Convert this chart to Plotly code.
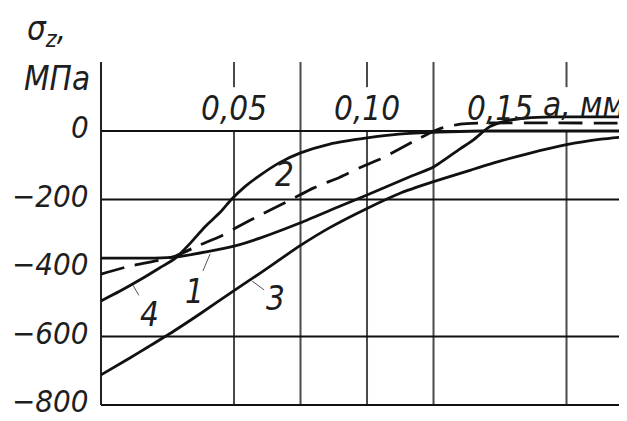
import plotly.graph_objects as go

# ---- data (depth a, mm ; stress sigma_z, MPa) ----
depth_1 = [0, 0.010, 0.020, 0.028, 0.040, 0.050, 0.060, 0.075, 0.090, 0.100,
           0.115, 0.125, 0.135, 0.140, 0.146, 0.152, 0.160, 0.170, 0.180, 0.198]
sigma_1 = [-371, -371, -371, -368, -352, -336, -312, -268, -219, -187,
           -137, -105, -52, -26, 12, 29, 38, 41, 41, 41]

depth_2 = [0, 0.011, 0.022, 0.028, 0.037, 0.045, 0.052, 0.060, 0.071, 0.080,
           0.090, 0.097, 0.105, 0.112, 0.120, 0.127, 0.135, 0.142, 0.198]
sigma_2 = [-418, -394, -377, -365, -333, -307, -277, -245, -202, -166,
           -134, -108, -82, -53, -20, 6, 20, 23, 23]

depth_3 = [0, 0.011, 0.018, 0.027, 0.037, 0.050, 0.060, 0.075, 0.086, 0.100,
           0.112, 0.125, 0.139, 0.150, 0.161, 0.175, 0.188, 0.198]
sigma_3 = [-712, -662, -629, -586, -535, -466, -414, -334, -282, -226,
           -183, -148, -114, -88, -65, -40, -24, -16]

depth_4 = [0, 0.007, 0.015, 0.022, 0.028, 0.0335, 0.039, 0.045, 0.049, 0.054,
           0.060, 0.067, 0.075, 0.086, 0.100, 0.112, 0.127, 0.143, 0.198]
sigma_4 = [-496, -468, -433, -400, -371, -328, -280, -236, -200, -163,
           -128, -93, -64, -38, -20, -9, -3, 0, 0]

curve_names = ["1", "2", "3", "4"]

x_tick_vals = [0.05, 0.10, 0.15]
x_tick_text = ["0,05", "0,10", "0,15"]
y_tick_vals = [0, -200, -400, -600, -800]
y_tick_text = ["0", "\u2212200", "\u2212400", "\u2212600", "\u2212800"]

x_grid_full = [0.075, 0.125]
x_grid_gap = [0.05, 0.10, 0.175]
y_grid = [0, -200, -600, -800]

X_MIN, X_MAX = -0.00113, 0.19774
Y_MIN, Y_MAX = -805.8, 201.5

FONT = "DejaVu Sans Condensed, Liberation Sans Narrow, DejaVu Sans, sans-serif"
TXT = "#1e1e1e"

fig = go.Figure()

series = [(depth_1, sigma_1, "solid"), (depth_2, sigma_2, "24px,11px"),
          (depth_3, sigma_3, "solid"), (depth_4, sigma_4, "solid")]
for (xs, ys, dash), name in zip(series, curve_names):
    fig.add_trace(go.Scatter(x=xs, y=ys, mode="lines", name=name,
                             line=dict(color="#111111", width=2.8, dash=dash,
                                       shape="spline", smoothing=0.6),
                             showlegend=False, hoverinfo="skip"))

shapes = []
for xv in x_grid_full:
    shapes.append(dict(type="line", xref="x", yref="y", x0=xv, x1=xv, y0=-800, y1=Y_MAX,
                       line=dict(color="#4a4a4a", width=2), layer="below"))
for xv in x_grid_gap:
    shapes.append(dict(type="line", xref="x", yref="y", x0=xv, x1=xv, y0=-800, y1=0,
                       line=dict(color="#4a4a4a", width=2), layer="below"))
    shapes.append(dict(type="line", xref="x", yref="y", x0=xv, x1=xv, y0=128, y1=Y_MAX,
                       line=dict(color="#4a4a4a", width=2), layer="below"))
for yv in y_grid:
    shapes.append(dict(type="line", xref="x", yref="y", x0=0, x1=X_MAX, y0=yv, y1=yv,
                       line=dict(color="#111111", width=2), layer="below"))
# left axis line
shapes.append(dict(type="line", xref="x", yref="y", x0=0, x1=0, y0=-800, y1=Y_MAX,
                   line=dict(color="#222222", width=2), layer="below"))

font = dict(family=FONT, size=33, color=TXT, style="italic")
yfont = dict(family=FONT, size=31, color=TXT, style="italic")
annotations = []
for xv, t in zip(x_tick_vals, x_tick_text):
    annotations.append(dict(x=xv, y=67, xref="x", yref="y", text=t, showarrow=False,
                            font=font, xanchor="center", yanchor="middle"))
for yv, t in zip(y_tick_vals, y_tick_text):
    annotations.append(dict(x=0, y=yv, xref="paper", yref="y", text=t, showarrow=False,
                            font=yfont, xanchor="right", yanchor="middle",
                            xshift=-7, yshift=4))
annotations.append(dict(x=0.1655, y=78, xref="x", yref="y", text="a, мм", showarrow=False,
                        font=font, xanchor="left", yanchor="middle"))
annotations.append(dict(x=0, y=0.953, xref="paper", yref="paper", text="МПа",
                        showarrow=False, font=font, xanchor="right", yanchor="middle",
                        xshift=-6))
annotations.append(dict(x=0, y=1.09, xref="paper", yref="paper",
                        text="σ<sub>z</sub>,", showarrow=False, font=font,
                        xanchor="right", yanchor="middle", xshift=-30))

# curve labels with leaders
label_font = dict(family=FONT, size=33, color=TXT, style="italic")
annotations.append(dict(x=0.041, y=-359, xref="x", yref="y", text=curve_names[0],
                        showarrow=True, arrowhead=0, arrowwidth=1, arrowcolor="#555",
                        ax=-16, ay=38, font=label_font))
annotations.append(dict(x=0.0688, y=-128, xref="x", yref="y", text=curve_names[1],
                        showarrow=False, font=label_font))
annotations.append(dict(x=0.0568, y=-438, xref="x", yref="y", text=curve_names[2],
                        showarrow=True, arrowhead=0, arrowwidth=1, arrowcolor="#555",
                        ax=23, ay=17, font=label_font))
annotations.append(dict(x=0.012, y=-450, xref="x", yref="y", text=curve_names[3],
                        showarrow=True, arrowhead=0, arrowwidth=1, arrowcolor="#555",
                        ax=17, ay=29, font=label_font))

# The page body has an 8px default margin, so the figure is sized to fit the window.
fig.update_layout(
    width=619, height=413,
    margin=dict(l=90, r=0, t=54, b=14, autoexpand=False),
    paper_bgcolor="white", plot_bgcolor="white",
    shapes=shapes, annotations=annotations,
    xaxis=dict(range=[X_MIN, X_MAX], showgrid=False, zeroline=False,
               showticklabels=False, showline=False, ticks="", automargin=False),
    yaxis=dict(range=[Y_MIN, Y_MAX], showgrid=False, zeroline=False, showline=False,
               showticklabels=False, ticks="", automargin=False),
)

fig.write_html("out.html")
